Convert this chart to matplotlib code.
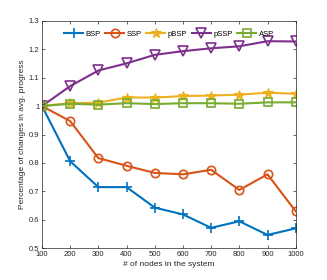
import numpy as np
import matplotlib
matplotlib.use('Agg')
import matplotlib.pyplot as plt

plt.rcParams['font.family'] = ['Liberation Sans', 'DejaVu Sans']

# data
nodes = [100, 200, 300, 400, 500, 600, 700, 800, 900, 1000]
bsp = [1.0, 0.806, 0.715, 0.715, 0.643, 0.619, 0.572, 0.595, 0.547, 0.570]
ssp = [1.0, 0.947, 0.817, 0.790, 0.765, 0.760, 0.776, 0.705, 0.760, 0.630]
pbsp = [1.0, 1.010, 1.012, 1.030, 1.030, 1.035, 1.037, 1.040, 1.047, 1.043]
pssp = [1.0, 1.070, 1.125, 1.150, 1.180, 1.193, 1.203, 1.210, 1.228, 1.227]
asp = [1.0, 1.008, 1.005, 1.010, 1.007, 1.010, 1.010, 1.008, 1.013, 1.013]

fig = plt.figure(figsize=(3.27, 2.8), dpi=100)
ax = fig.add_axes([42/327, 1 - 248.3/280, (295.7 - 42)/327, (248.3 - 20.7)/280])

lw = 1.5
ax.plot(nodes, bsp, color='#0072BD', marker='+', ms=7, mew=1.2, lw=lw, label='BSP')
ax.plot(nodes, ssp, color='#D95319', marker='o', ms=6, mfc='none', mew=1.2, lw=lw, label='SSP')
ax.plot(nodes, pbsp, color='#EDB120', marker='*', ms=7, mew=0.8, lw=lw, label='pBSP')
ax.plot(nodes, pssp, color='#7E2F8E', marker='v', ms=7, mfc='none', mew=1.2, lw=lw, label='pSSP')
ax.plot(nodes, asp, color='#77AC30', marker='s', ms=5.5, mfc='none', mew=1.2, lw=lw, label='ASP')

ax.set_xlim(100, 1000)
ax.set_ylim(0.5, 1.3)
ax.set_xticks(np.arange(100, 1001, 100))
ax.set_yticks(np.arange(0.5, 1.31, 0.1))
ax.set_yticklabels(['0.5', '0.6', '0.7', '0.8', '0.9', '1', '1.1', '1.2', '1.3'])
ax.tick_params(direction='in', labelsize=5.5, length=2.5, width=0.5,
               top=True, right=True, colors='#262626', pad=2)
for s in ax.spines.values():
    s.set_linewidth(0.5)
    s.set_color('#262626')

ax.set_xlabel('# of nodes in the system', fontsize=6, color='#262626', labelpad=2)
ax.set_ylabel('Percentage of changes in avg. progress', fontsize=6, color='#262626', labelpad=2)

ax.legend(loc='upper center', ncol=5, frameon=False, fontsize=5.5, handlelength=2.5,
          columnspacing=0.6, handletextpad=0.3, bbox_to_anchor=(0.5, 0.97), borderaxespad=0)

fig.savefig('out.png', dpi=100)
